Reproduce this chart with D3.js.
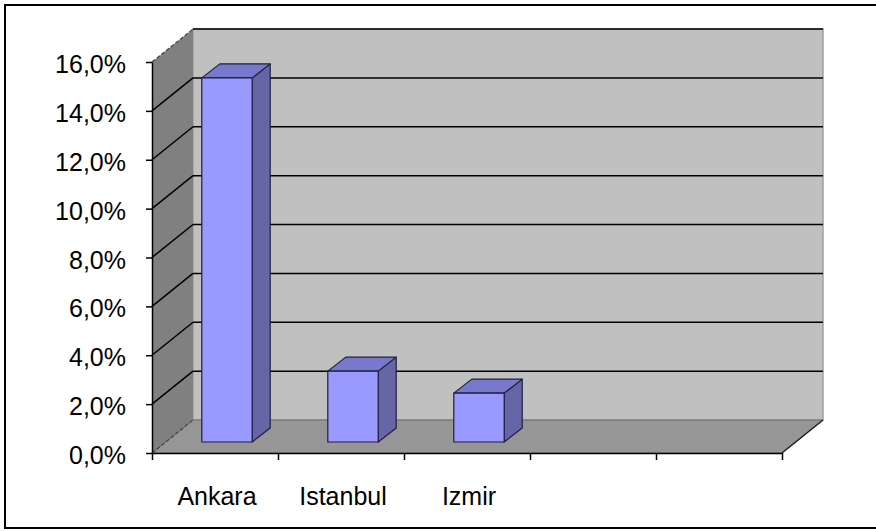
<!DOCTYPE html>
<html>
<head>
<meta charset="utf-8">
<script src="https://cdn.jsdelivr.net/npm/d3@7"></script>
<style>
  body { margin: 0; background: #fff; }
  svg text { font-family: "Liberation Sans", Arial, sans-serif; }
</style>
</head>
<body>
<svg width="876" height="531"></svg>
<script>
// values (percent)
const categories = ["Ankara", "Istanbul", "Izmir"];
const values = [14.9, 2.9, 2.0];
const slotCount = 5;
const yTicks = [0, 2, 4, 6, 8, 10, 12, 14, 16];

const svg = d3.select("svg");

// outer frame
svg.append("rect")
   .attr("x", 5).attr("y", 5)
   .attr("width", 876).attr("height", 523)
   .attr("fill", "#fff")
   .attr("stroke", "#000")
   .attr("stroke-width", 2);

const plotLeft = 152, plotRight = 782, plotTop = 62, plotBottom = 453;
const depth = [41, -33];           // offset from front plane to back wall
const barFront = [12, -11];        // bar front face offset
const barSide = [18, -14];         // bar depth

const y = d3.scaleLinear().domain([0, 16]).range([plotBottom, plotTop]);
const x = d3.scaleBand().domain(d3.range(slotCount)).range([plotLeft, plotRight]);
const xEdge = d3.scaleLinear().domain([0, slotCount]).range([plotLeft, plotRight]);

const pts = p => p.map(d => d.join(",")).join(" ");
const bx = plotLeft + depth[0], by = depth[1];

// back wall
svg.append("polygon")
   .attr("points", pts([[bx, y(16) + by], [plotRight + depth[0], y(16) + by],
                        [plotRight + depth[0], y(0) + by], [bx, y(0) + by]]))
   .attr("fill", "#c0c0c0")
   .attr("stroke", "#a0a0a0")
   .attr("stroke-width", 1.5);

// side wall
svg.append("polygon")
   .attr("points", pts([[plotLeft, y(16)], [bx, y(16) + by], [bx, y(0) + by], [plotLeft, y(0)]]))
   .attr("fill", "#808080");

// floor
svg.append("polygon")
   .attr("points", pts([[plotLeft, y(0)], [plotRight, y(0)], [plotRight + depth[0], y(0) + by], [bx, y(0) + by]]))
   .attr("fill", "#969696")
   .attr("stroke", "#6e6e6e")
   .attr("stroke-width", 1);

// gridlines on back wall and side wall
const grid = svg.append("g").attr("stroke", "#000").attr("stroke-width", 1.5).attr("fill", "none");
grid.selectAll(".back")
    .data(yTicks.filter(d => d > 0))
    .enter()
    .append("line")
    .attr("x1", bx).attr("x2", plotRight + depth[0])
    .attr("y1", d => y(d) + by).attr("y2", d => y(d) + by);
grid.selectAll(".side")
    .data(yTicks.filter(d => d > 0 && d < 16))
    .enter()
    .append("line")
    .attr("x1", plotLeft).attr("x2", bx)
    .attr("y1", d => y(d)).attr("y2", d => y(d) + by);

// dashed diagonal edges at top and bottom of side wall
svg.selectAll(".edge")
   .data([16, 0])
   .enter()
   .append("line")
   .attr("x1", plotLeft).attr("x2", bx)
   .attr("y1", d => y(d)).attr("y2", d => y(d) + by)
   .attr("stroke", "#444")
   .attr("stroke-width", 1.2)
   .attr("stroke-dasharray", "4,2");

// right diagonal of the floor
svg.append("line")
   .attr("x1", plotRight).attr("y1", y(0))
   .attr("x2", plotRight + depth[0]).attr("y2", y(0) + by)
   .attr("stroke", "#222")
   .attr("stroke-width", 1.5);

// bars
const barW = x.bandwidth() * 0.4;
const barX = i => x(i) + x.bandwidth() / 2 - barW / 2 + barFront[0];
const bars = svg.selectAll(".bar")
   .data(values.map((v, i) => ({ v: v, i: i })))
   .enter()
   .append("g")
   .attr("stroke", "#1e1e3c")
   .attr("stroke-width", 1.2)
   .attr("stroke-linejoin", "round");

bars.append("polygon")
    .attr("points", d => {
      const x1 = barX(d.i) + barW;
      const yb = y(0) + barFront[1], yt = y(d.v) + barFront[1];
      return pts([[x1, yb], [x1 + barSide[0], yb + barSide[1]], [x1 + barSide[0], yt + barSide[1]], [x1, yt]]);
    })
    .attr("fill", "#6666a6");

bars.append("polygon")
    .attr("points", d => {
      const x0 = barX(d.i), x1 = x0 + barW;
      const yt = y(d.v) + barFront[1];
      return pts([[x0, yt], [x1, yt], [x1 + barSide[0], yt + barSide[1]], [x0 + barSide[0], yt + barSide[1]]]);
    })
    .attr("fill", "#7878cc");

bars.append("rect")
    .attr("x", d => barX(d.i))
    .attr("y", d => y(d.v) + barFront[1])
    .attr("width", barW)
    .attr("height", d => y(0) - y(d.v))
    .attr("fill", "#9999ff");

// y axis
svg.append("g")
   .attr("transform", "translate(" + plotLeft + ",0)")
   .call(d3.axisLeft(y)
           .tickValues(yTicks)
           .tickFormat(d => d.toFixed(1).replace(".", ",") + "%")
           .tickSize(6)
           .tickSizeOuter(0)
           .tickPadding(20))
   .call(g => g.selectAll("line, path").attr("stroke", "#000").attr("stroke-width", 1.5))
   .call(g => g.selectAll("text")
               .attr("dy", "0.42em")
               .attr("font-size", "25px")
               .attr("font-family", "'Liberation Sans', Arial, sans-serif")
               .attr("fill", "#000"));

// x axis: ticks on category edges, labels at centres
svg.append("g")
   .attr("transform", "translate(0," + plotBottom + ")")
   .call(d3.axisBottom(xEdge)
           .tickValues(d3.range(slotCount + 1))
           .tickFormat("")
           .tickSize(7)
           .tickSizeOuter(0))
   .call(g => g.selectAll("line, path").attr("stroke", "#000").attr("stroke-width", 1.5));

svg.selectAll(".cat")
   .data(categories)
   .enter()
   .append("text")
   .attr("x", (d, i) => x(i) + x.bandwidth() / 2 + 2)
   .attr("y", 505)
   .attr("text-anchor", "middle")
   .attr("font-size", "25px")
   .attr("fill", "#000")
   .text(d => d);
</script>
</body>
</html>
